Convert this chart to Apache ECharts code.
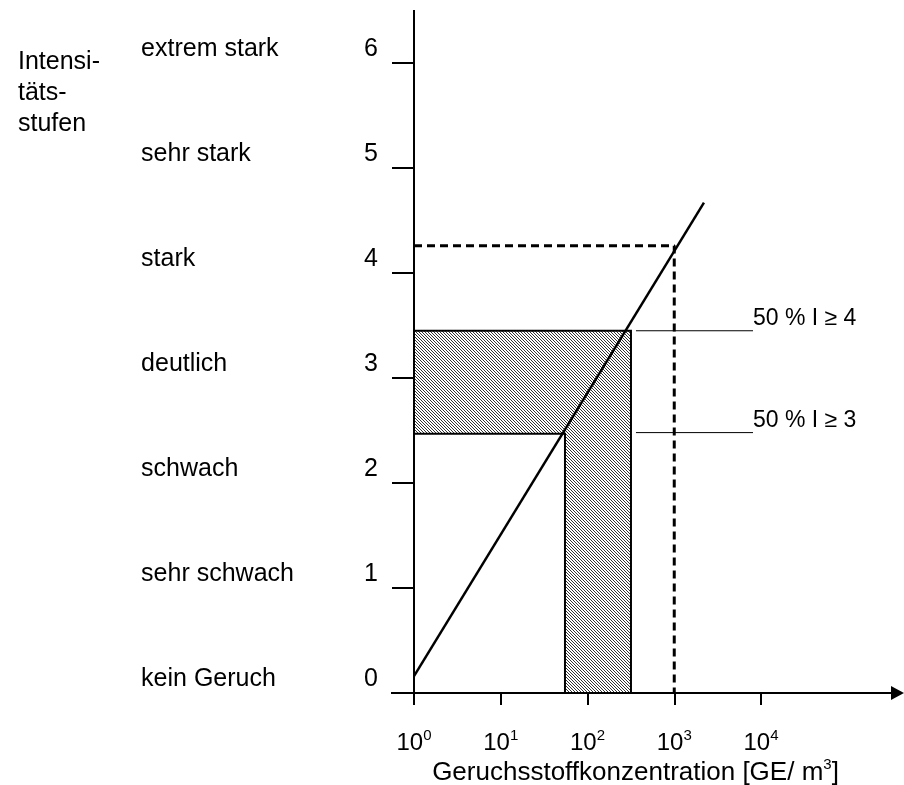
<!DOCTYPE html>
<html>
<head>
<meta charset="utf-8">
<script src="https://cdn.jsdelivr.net/npm/echarts@6/dist/echarts.min.js"></script>
<style>
html,body{margin:0;padding:0;background:#fff;}
#main{width:904px;height:785px;}
</style>
</head>
<body>
<div id="main"></div>
<script>
// ---- data ----
const intensityLabels = ['kein Geruch','sehr schwach','schwach','deutlich','stark','sehr stark','extrem stark'];
const xTickExponents = [0, 1, 2, 3, 4];
const lineX = [1, 2200];
const lineY = [0.16, 4.67];
const dashX = [1, 1000, 1000];
const dashY = [4.26, 4.26, 0];
const hatchX = [1, 317, 317, 55, 55, 1];
const hatchY = [3.45, 3.45, 0, 0, 2.47, 2.47];
const annotX = [362, 8090];
const annotY = [3.45, 2.48];
const annotText = ['50 % I \u2265 4', '50 % I \u2265 3'];
const yAxisTitle = 'Intensi-\nt\u00e4ts-\nstufen';
const xAxisTitle = 'Geruchsstoffkonzentration [GE/ m';
const xAxisTitleSup = '3';

const FONT = 'Liberation Sans, Arial, sans-serif';

// hatch pattern
const pc = document.createElement('canvas');
const S = 3;
pc.width = S; pc.height = S;
const pctx = pc.getContext('2d');
pctx.fillStyle = '#fff';
pctx.fillRect(0, 0, S, S);
pctx.strokeStyle = '#333';
pctx.lineWidth = 1;
for (let k = -1; k <= 1; k++) {
  pctx.beginPath();
  pctx.moveTo(k * S - 1, -1);
  pctx.lineTo(k * S + S + 1, S + 1);
  pctx.stroke();
}

const chart = echarts.init(document.getElementById('main'), null, {renderer: 'canvas'});

const series = [
  {
    type: 'custom',
    z: 1,
    silent: true,
    data: hatchX.map((x, i) => [x, hatchY[i]]),
    renderItem: function (params, api) {
      if (params.dataIndex !== 0) return null;
      const pts = hatchX.map((x, i) => api.coord([x, hatchY[i]]));
      return {
        type: 'polygon',
        shape: {points: pts},
        style: {fill: {image: pc, repeat: 'repeat'}, stroke: '#000', lineWidth: 2}
      };
    }
  },
  {
    type: 'line',
    z: 3,
    data: lineX.map((x, i) => [x, lineY[i]]),
    symbol: 'none',
    lineStyle: {color: '#000', width: 2.5}
  },
  {
    type: 'line',
    z: 3,
    data: dashX.map((x, i) => [x, dashY[i]]),
    symbol: 'none',
    lineStyle: {color: '#000', width: 3, type: [8, 5]}
  }
];
annotY.forEach((y, i) => {
  series.push({
    type: 'line',
    z: 3,
    data: annotX.map(x => [x, y]),
    symbol: 'none',
    lineStyle: {color: '#000', width: 1},
    endLabel: {
      show: true,
      formatter: annotText[i],
      distance: 0,
      offset: [0, -12],
      color: '#000',
      fontSize: 23,
      fontFamily: FONT
    }
  });
});

chart.setOption({
  animation: false,
  backgroundColor: '#fff',
  title: {
    text: yAxisTitle,
    left: 13,
    top: 42,
    textStyle: {fontSize: 25, lineHeight: 31, fontWeight: 'normal', color: '#000', fontFamily: FONT}
  },
  grid: {left: 414, right: 143, top: 63, bottom: 92, containLabel: false, outerBoundsMode: 'none'},
  xAxis: {
    type: 'log',
    logBase: 10,
    min: 1,
    max: 10000,
    name: '{a|' + xAxisTitle + '}{s|' + xAxisTitleSup + '}{a|]}',
    nameLocation: 'middle',
    nameGap: 64,
    nameMoveOverlap: false,
    nameTextStyle: {
      padding: [0, 0, 0, 96],
      rich: {
        a: {fontSize: 26, color: '#000', fontFamily: FONT},
        s: {fontSize: 15, color: '#000', fontFamily: FONT, padding: [0, 0, 16, 0]}
      }
    },
    axisLine: {show: true, lineStyle: {color: '#000', width: 2}},
    axisTick: {show: true, length: 12, lineStyle: {color: '#000', width: 2}},
    minorTick: {show: false},
    splitLine: {show: false},
    axisLabel: {
      margin: 35,
      formatter: function (v) {
        const e = Math.round(Math.log10(v));
        return xTickExponents.indexOf(e) >= 0 ? '{b|10}{s|' + e + '}' : '';
      },
      rich: {
        b: {fontSize: 24, color: '#000', fontFamily: FONT},
        s: {fontSize: 15, color: '#000', fontFamily: FONT, padding: [0, 0, 16, 0]}
      }
    }
  },
  yAxis: {
    type: 'value',
    min: 0,
    max: 6,
    interval: 1,
    axisLine: {show: true, lineStyle: {color: '#000', width: 2}},
    axisTick: {show: true, length: 22, lineStyle: {color: '#000', width: 2}},
    splitLine: {show: false},
    axisLabel: {
      margin: 36,
      padding: [0, 0, 27, 0],
      formatter: function (v) {
        return '{n|' + intensityLabels[v] + '}{v|' + v + '}';
      },
      rich: {
        n: {fontSize: 25, color: '#000', fontFamily: FONT, width: 223, align: 'left'},
        v: {fontSize: 25, color: '#000', fontFamily: FONT}
      }
    }
  },
  series: series
});

// axis extensions (decoration) computed from the library's scales
const pOrigin = chart.convertToPixel({xAxisIndex: 0, yAxisIndex: 0}, [1, 0]);
const pTop = chart.convertToPixel({xAxisIndex: 0, yAxisIndex: 0}, [1, 6]);
const pRight = chart.convertToPixel({xAxisIndex: 0, yAxisIndex: 0}, [10000, 0]);
const ox = pOrigin[0], oy = pOrigin[1];
chart.setOption({
  graphic: [
    {type: 'line', shape: {x1: ox, y1: pTop[1], x2: ox, y2: 10}, style: {stroke: '#000', lineWidth: 2}},
    {type: 'line', shape: {x1: ox, y1: oy, x2: ox, y2: oy + 12}, style: {stroke: '#000', lineWidth: 2}},
    {type: 'line', shape: {x1: ox - 23, y1: oy, x2: ox, y2: oy}, style: {stroke: '#000', lineWidth: 2}},
    {type: 'line', shape: {x1: pRight[0], y1: oy, x2: 893, y2: oy}, style: {stroke: '#000', lineWidth: 2}},
    {type: 'polygon', shape: {points: [[891, oy - 7], [904, oy], [891, oy + 7]]}, style: {fill: '#000'}}
  ]
});
</script>
</body>
</html>
